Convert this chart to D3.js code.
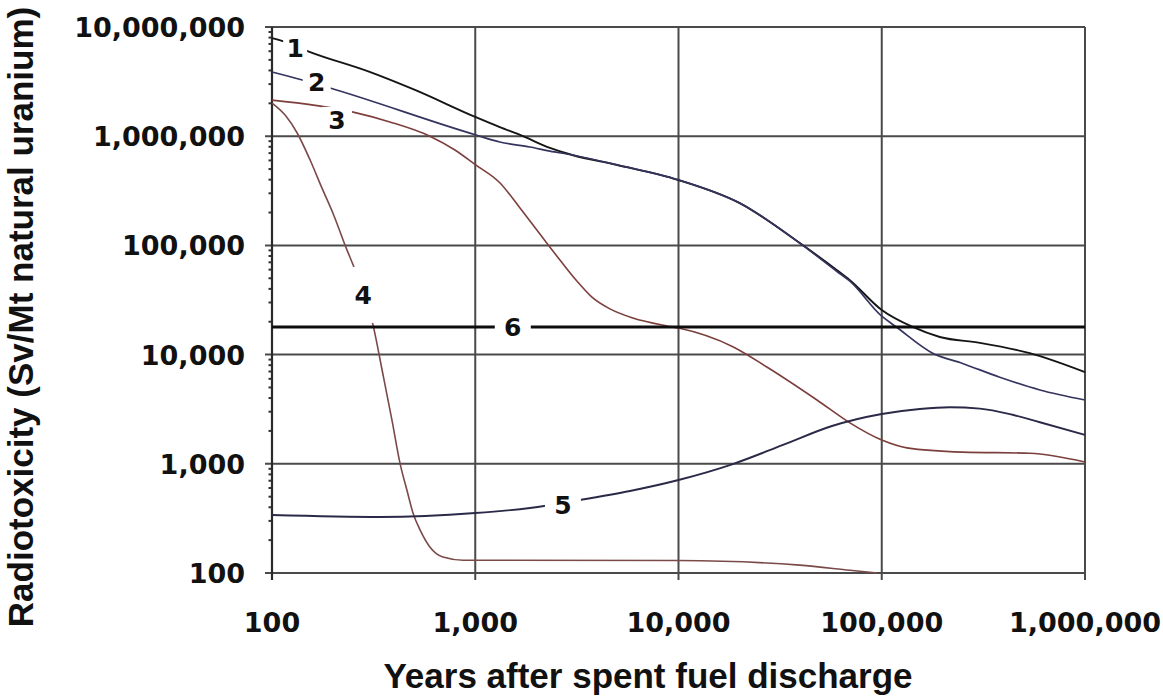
<!DOCTYPE html>
<html>
<head>
<meta charset="utf-8">
<script src="https://cdn.jsdelivr.net/npm/d3@7/dist/d3.min.js"></script>
<style>
  html, body { margin: 0; padding: 0; background: #fff; }
  svg { display: block; }
</style>
</head>
<body>
<svg id="chart" width="1163" height="699"></svg>
<script>
// ---------- DATA ----------
const xTickValues = [100, 1000, 10000, 100000, 1000000];
const yTickValues = [100, 1000, 10000, 100000, 1000000, 10000000];
const xTitle = "Years after spent fuel discharge";
const yTitle = "Radiotoxicity (Sv/Mt natural uranium)";

// [years, Sv/Mt]
const curve1 = [[100,7.9e6],[116,7.3e6],[154,5.9e6],[300,3.9e6],[505,2.65e6],[1000,1.5e6],[1321,1.21e6],[1718,1.0e6],[2330,7.8e5],[3000,6.73e5],[5000,5.45e5],[10000,3.97e5],[20000,2.44e5],[39500,1.05e5],[60000,5.96e4],[69700,4.8e4],[100000,2.56e4],[142000,1.79e4],[193000,1.45e4],[304000,1.28e4],[535000,1.03e4],[1000000,6.9e3]];
const curve2 = [[100,3.87e6],[141,3.27e6],[193,2.76e6],[1000,1.03e6],[1321,8.85e5],[1858,7.96e5],[2330,7.31e5],[3000,6.73e5],[5000,5.45e5],[10000,3.97e5],[20000,2.44e5],[39500,1.05e5],[60000,5.8e4],[69700,4.7e4],[100000,2.25e4],[118000,1.79e4],[178000,1.03e4],[250000,8.3e3],[381000,6.2e3],[600000,4.74e3],[1000000,3.84e3]];
const curve3 = [[100,2.14e6],[248,1.67e6],[380,1.35e6],[598,1.0e6],[794,7.48e5],[1000,5.5e5],[1321,3.75e5],[1660,2.2e5],[2080,1.27e5],[2610,7.35e4],[3162,4.72e4],[3750,3.36e4],[4600,2.62e4],[5970,2.16e4],[8770,1.83e4],[10000,1.75e4],[18500,1.18e4],[27200,7.7e3],[48000,3.84e3],[69700,2.37e3],[100000,1.65e3],[133000,1.40e3],[250000,1.28e3],[535000,1.25e3],[1000000,1.04e3]];
const curve4 = [[100,2.01e6],[116,1.56e6],[133,1.07e6],[154,6.05e5],[176,3.36e5],[202,1.86e5],[229,1.0e5],[262,5.36e4],[314,1.87e4],[352,6.5e3],[389,2.52e3],[427,1.0e3],[461,575],[494,354],[535,248],[598,173],[693,140],[871,131],[1000,131],[10000,130],[39500,118],[69700,106],[95000,100]];
const curve5 = [[100,340],[340,326],[1000,354],[1858,394],[3270,466],[5770,564],[10000,711],[18500,995],[32700,1490],[56900,2220],[100000,2860],[154000,3180],[216000,3300],[304000,3200],[427000,2850],[600000,2400],[1000000,1840]];
const curve6 = [[100,17900],[1000000,17900]];

const seriesNames = ["1","2","3","4","5","6"];
const seriesData = [curve1, curve2, curve3, curve4, curve5, curve6];

// label anchor points in data space
const labelPoints = [[130,6.43e6],[166,3.13e6],[209,1.41e6],[281,3.52e4],[2700,420],[1530,1.79e4]];

// ---------- STYLE ----------
const seriesColors = ["#151515", "#34345e", "#7c3f3c", "#7a4a48", "#2a2a48", "#0d0d0d"];
const seriesWidths = [1.9, 1.7, 1.6, 1.6, 1.9, 3.2];
const labelGap = [[24,24],[28,24],[30,26],[30,56],[36,28],[36,28]];

const svg = d3.select("#chart");

const x = d3.scaleLog().domain([100, 1e6]).range([272, 1085]);
const y = d3.scaleLog().domain([100, 1e7]).range([573, 27]);

const gridColor = "#4a4a4a";
const fmt = d3.format(",");

// minor ticks on y axis
const minorY = [];
for (let e = 2; e < 7; e++) for (let k = 2; k <= 9; k++) minorY.push(k * Math.pow(10, e));
svg.append("g").selectAll("line").data(minorY).join("line")
  .attr("x1", x(100) - 3.5).attr("x2", x(100))
  .attr("y1", d => y(d)).attr("y2", d => y(d))
  .attr("stroke", "#333").attr("stroke-width", 2);

// horizontal gridlines (with small tick to left)
svg.append("g").selectAll("line").data(yTickValues).join("line")
  .attr("x1", x(100) - 7).attr("x2", x(1e6))
  .attr("y1", d => y(d)).attr("y2", d => y(d))
  .attr("stroke", gridColor).attr("stroke-width", 2);

// vertical gridlines (with small tick below)
svg.append("g").selectAll("line").data(xTickValues).join("line")
  .attr("x1", d => x(d)).attr("x2", d => x(d))
  .attr("y1", y(1e7)).attr("y2", y(100) + 7)
  .attr("stroke", gridColor).attr("stroke-width", 2);

// left axis line darker
svg.append("line")
  .attr("x1", x(100)).attr("x2", x(100))
  .attr("y1", y(1e7)).attr("y2", y(100) + 7)
  .attr("stroke", "#2a2a2a").attr("stroke-width", 2.2);

// tick labels
svg.append("g").selectAll("text").data(yTickValues).join("text")
  .attr("x", 245).attr("y", d => y(d) + 10)
  .attr("text-anchor", "end")
  .attr("font-family", "DejaVu Sans, sans-serif").attr("font-weight", "bold")
  .attr("font-size", 27).attr("fill", "#111")
  .text(d => fmt(d));

svg.append("g").selectAll("text").data(xTickValues).join("text")
  .attr("x", d => x(d)).attr("y", 632)
  .attr("text-anchor", "middle")
  .attr("font-family", "DejaVu Sans, sans-serif").attr("font-weight", "bold")
  .attr("font-size", 27).attr("fill", "#111")
  .text(d => fmt(d));

// axis titles
svg.append("text")
  .attr("x", 648).attr("y", 688)
  .attr("text-anchor", "middle")
  .attr("font-family", "Liberation Sans, Arial, sans-serif").attr("font-weight", "bold")
  .attr("font-size", 35).attr("fill", "#111")
  .text(xTitle);

svg.append("text")
  .attr("transform", "translate(33,317) rotate(-90)")
  .attr("text-anchor", "middle")
  .attr("font-family", "Liberation Sans, Arial, sans-serif").attr("font-weight", "bold")
  .attr("font-size", 35).attr("fill", "#111")
  .text(yTitle);

// curves
const line = d3.line()
  .x(d => x(d[0])).y(d => y(d[1]))
  .curve(d3.curveMonotoneX);

svg.append("g").selectAll("path").data(seriesData).join("path")
  .attr("d", d => line(d))
  .attr("fill", "none")
  .attr("stroke", (d, i) => seriesColors[i])
  .attr("stroke-width", (d, i) => seriesWidths[i])
  .attr("stroke-linejoin", "round");

// labels with white gaps
const lg = svg.append("g").selectAll("g").data(labelPoints).join("g")
  .attr("transform", d => `translate(${x(d[0])},${y(d[1])})`);
lg.append("rect")
  .attr("x", (d, i) => -labelGap[i][0] / 2).attr("y", (d, i) => -labelGap[i][1] / 2)
  .attr("width", (d, i) => labelGap[i][0]).attr("height", (d, i) => labelGap[i][1])
  .attr("fill", "#fff");
lg.append("text")
  .attr("text-anchor", "middle").attr("y", 9)
  .attr("font-family", "DejaVu Sans, sans-serif").attr("font-weight", "bold")
  .attr("font-size", 25).attr("fill", "#111")
  .text((d, i) => seriesNames[i]);
</script>
</body>
</html>
